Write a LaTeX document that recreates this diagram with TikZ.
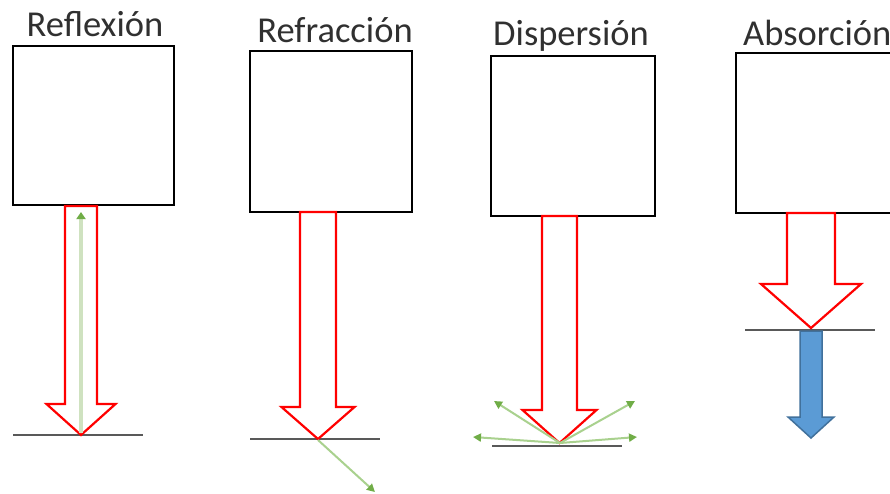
\documentclass[tikz,border=0pt]{standalone}
\usepackage{fontspec}
\setmainfont{Carlito}
\usetikzlibrary{arrows.meta}
\definecolor{redline}{HTML}{FF0000}
\definecolor{gline}{HTML}{A9D18E}
\definecolor{glight}{HTML}{CFE2C0}
\definecolor{ghead}{HTML}{70AD47}
\definecolor{groundc}{HTML}{595959}
\definecolor{bfill}{HTML}{5B9BD5}
\definecolor{bline}{HTML}{41719C}
\definecolor{txt}{HTML}{303030}
\tikzset{
  box/.style={draw=black, line width=2.8pt, fill=white, inner sep=0pt},
  title/.style={font=\fontsize{36.5}{40}\selectfont, text=txt, inner sep=0pt},
  groundline/.style={draw=groundc, line width=2pt},
  redarrow/.style={draw=redline, fill=white, line width=2.2pt, line join=miter},
  bluearrow/.style={draw=bline, fill=bfill, line width=1.5pt, line join=miter},
  ray/.style={draw=gline, line width=2pt, -{Triangle[length=8pt,width=8pt,color=ghead]}},
  rayup/.style={draw=glight, line width=4.5pt, -{Triangle[length=7pt,width=9pt,color=ghead]}},
}
% #1 centre x, #2 top y, #3 base y, #4 shaft half width, #5 wing half width, #6 tip y, #7 style
\newcommand{\blkarrow}[7]{%
  \path[#7] (#1-#4,#2) -- (#1-#4,#3) -- (#1-#5,#3) -- (#1,#6) -- (#1+#5,#3)
    -- (#1+#4,#3) -- (#1+#4,#2) -- cycle;}
\begin{document}
\begin{tikzpicture}[x=1pt,y=-1pt]
\clip (0,0) rectangle (890,493);
\fill[white] (0,0) rectangle (890,493);

% titles
\node[title, anchor=base] (t1) at (95,36) {Reflexión};
\node[title, anchor=base] (t2) at (335,42) {Refracción};
\node[title, anchor=base] (t3) at (571,45) {Dispersión};
\node[title, anchor=base west] (t4) at (743,45) {Absorción};

% boxes
\node[box, minimum width=161pt, minimum height=159pt] (b1) at (93.5,125.5) {};
\node[box, minimum width=162pt, minimum height=161pt] (b2) at (331,131.5) {};
\node[box, minimum width=164pt, minimum height=160pt] (b3) at (573,136) {};
\node[box, minimum width=164pt, minimum height=160pt] (b4) at (818,133) {};

% ground lines
\coordinate (g1a) at (13,435);  \coordinate (g1b) at (143,435);
\coordinate (g2a) at (250,439); \coordinate (g2b) at (380,439);
\coordinate (g3a) at (492,446); \coordinate (g3b) at (622,446);
\coordinate (g4a) at (745,330); \coordinate (g4b) at (875,330);
\draw[groundline] (g1a) -- (g1b);
\draw[groundline] (g2a) -- (g2b);
\draw[groundline] (g3a) -- (g3b);
\draw[groundline] (g4a) -- (g4b);

% red block arrows
\blkarrow{81}{206}{404}{16}{34.5}{435}{redarrow}
\blkarrow{318}{212}{407}{18}{36.5}{439}{redarrow}
\blkarrow{559.5}{216}{410}{17.5}{37}{443}{redarrow}
\blkarrow{811}{213}{284}{24}{50}{328}{redarrow}

% blue block arrow (absorption)
\blkarrow{811}{331}{417}{11}{23}{438}{bluearrow}

% green rays
\coordinate (p1) at (81,433);   \coordinate (e1) at (81,212);
\coordinate (p2) at (318,440);  \coordinate (e2) at (375,492);
\coordinate (p3) at (560,443);
\coordinate (e3a) at (494,401); \coordinate (e3b) at (635,401);
\coordinate (e3c) at (473,437); \coordinate (e3d) at (637,437);
\draw[rayup] (p1) -- (e1);
\draw[ray] (p2) -- (e2);
\draw[ray] (p3) -- (e3a);
\draw[ray] (p3) -- (e3b);
\draw[ray] (p3) -- (e3c);
\draw[ray] (p3) -- (e3d);
\end{tikzpicture}
\end{document}
